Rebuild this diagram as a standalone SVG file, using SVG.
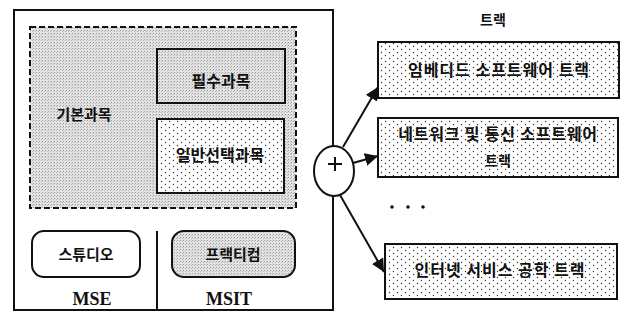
<svg xmlns="http://www.w3.org/2000/svg" width="626" height="321" viewBox="0 0 626 321">
<style>
.k{font-family:"Noto Sans CJK KR","Noto Sans",sans-serif;font-weight:700;fill:#111;text-anchor:middle}
.m{font-family:"Liberation Serif",serif;font-weight:700;fill:#111;text-anchor:middle;font-size:18px}
.box{stroke:#111;stroke-width:2}
.ln{stroke:#111;stroke-width:2;fill:none}
</style>
<defs>
<pattern id="dots" width="8" height="6" patternUnits="userSpaceOnUse">
<rect width="8" height="6" fill="#fff"/>
<circle cx="1.5" cy="1.5" r="0.7" fill="#333"/>
<circle cx="5.5" cy="4.5" r="0.7" fill="#333"/>
</pattern>
<pattern id="gray" width="3" height="3" patternUnits="userSpaceOnUse">
<rect width="3" height="3" fill="#e2e2e2"/>
<rect x="0" y="0" width="1" height="1" fill="#9a9a9a"/>
<rect x="2" y="1" width="1" height="1" fill="#b8b8b8"/>
</pattern>
<marker id="ah" viewBox="0 0 10 10" refX="10" refY="5" markerWidth="6.5" markerHeight="6.5" orient="auto" markerUnits="strokeWidth">
<path d="M0,0 L10,5 L0,10 z" fill="#111"/>
</marker>
</defs>
<rect width="626" height="321" fill="#fff"/>

<g id="outer">
<rect x="14" y="10" width="319" height="300" fill="none" class="box"/>
<line x1="157" y1="231" x2="157" y2="310" class="ln"/>
</g>

<g id="basic">
<rect x="30" y="27" width="266" height="181" fill="url(#gray)" stroke="#111" stroke-width="2" stroke-dasharray="6,3"/>
<text class="k" x="84" y="120" font-size="15">기본과목</text>
</g>

<g id="required">
<rect x="157" y="49" width="128" height="54" fill="url(#gray)" class="box"/>
<text class="k" x="221" y="87" font-size="16">필수과목</text>
</g>

<g id="elective">
<rect x="157" y="119" width="127" height="74" fill="url(#dots)" class="box"/>
<text class="k" x="220" y="161" font-size="16">일반선택과목</text>
</g>

<g id="studio">
<rect x="32" y="231" width="108" height="46" rx="12" fill="#fff" class="box"/>
<text class="k" x="86" y="260" font-size="15">스튜디오</text>
<text class="m" x="92" y="305">MSE</text>
</g>

<g id="practicum">
<rect x="172" y="231" width="123" height="46" rx="12" fill="url(#gray)" class="box"/>
<text class="k" x="233" y="260" font-size="15">프랙티컴</text>
<text class="m" x="229" y="305">MSIT</text>
</g>

<g id="plus">
<ellipse cx="334" cy="171" rx="20" ry="25" fill="#fff" class="box"/>
<path d="M328,164 H342 M335,157 V171" class="ln"/>
</g>

<g id="track-title">
<text class="k" x="493" y="25" font-size="14">트랙</text>
</g>

<g id="track1">
<rect x="378" y="42" width="241" height="56" fill="url(#dots)" class="box"/>
<text class="k" x="499" y="76" font-size="16" letter-spacing="1">임베디드 소프트웨어 트랙</text>
</g>

<g id="track2">
<rect x="378" y="118" width="240" height="59" fill="url(#dots)" class="box"/>
<text class="k" x="498" y="140" font-size="16" letter-spacing="0.8">네트워크 및 통신 소프트웨어</text>
<text class="k" x="498" y="166" font-size="14">트랙</text>
</g>

<g id="dots-ellipsis">
<circle cx="392" cy="207" r="1.8" fill="#111"/>
<circle cx="408" cy="207" r="1.8" fill="#111"/>
<circle cx="423" cy="207" r="1.8" fill="#111"/>
</g>

<g id="track3">
<rect x="385" y="244" width="232" height="55" fill="url(#dots)" class="box"/>
<text class="k" x="500" y="276" font-size="16" letter-spacing="1">인터넷 서비스 공학 트랙</text>
</g>

<g id="connectors">
<line x1="343" y1="147" x2="378" y2="87" class="ln" marker-end="url(#ah)"/>
<line x1="353" y1="163" x2="378" y2="156" class="ln" marker-end="url(#ah)"/>
<line x1="340" y1="195" x2="384" y2="272" class="ln" marker-end="url(#ah)"/>
</g>
</svg>
